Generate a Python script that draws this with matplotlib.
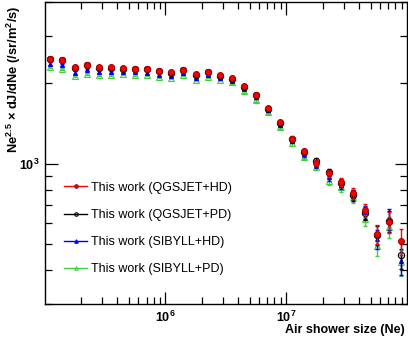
import numpy as np
import matplotlib
matplotlib.use("Agg")
import matplotlib.pyplot as plt
from matplotlib.ticker import LogLocator, NullFormatter, FuncFormatter

plt.rcParams['font.family'] = ['Liberation Sans', 'DejaVu Sans']
plt.rcParams['mathtext.fontset'] = 'custom'
plt.rcParams['mathtext.rm'] = 'Liberation Sans:bold'
plt.rcParams['mathtext.bf'] = 'Liberation Sans:bold'
plt.rcParams['mathtext.it'] = 'Liberation Sans:bold'

# shower size bins, log10(Ne)
log_ne = [5.05, 5.15, 5.25, 5.35, 5.45, 5.55, 5.65, 5.75, 5.85, 5.95,
          6.05, 6.15, 6.25, 6.35, 6.45, 6.55, 6.65, 6.75, 6.85, 6.95,
          7.05, 7.15, 7.25, 7.35, 7.45, 7.55, 7.65, 7.75, 7.85, 7.95]

qgs_hd = [2462, 2442, 2294, 2340, 2294, 2286, 2275, 2261, 2261, 2223,
          2190, 2242, 2153, 2203, 2142, 2087, 1943, 1805, 1606, 1428,
          1240, 1114, 1003, 920, 852, 775, 671, 546, 605, 514]
qgs_pd = [2453, 2432, 2280, 2330, 2280, 2280, 2261, 2251, 2251, 2213,
          2185, 2232, 2148, 2194, 2129, 2075, 1938, 1795, 1592, 1418,
          1231, 1106, 1020, 928, 845, 763, 653, 542, 610, 456]
sib_hd = [2360, 2330, 2185, 2232, 2203, 2203, 2203, 2194, 2185, 2148,
          2129, 2176, 2093, 2139, 2093, 2040, 1897, 1764, 1578, 1394,
          1216, 1087, 986, 889, 831, 763, 659, 523, 621, 433]
sib_pd = [2286, 2255, 2117, 2161, 2148, 2148, 2153, 2148, 2135, 2106,
          2081, 2142, 2058, 2099, 2058, 2011, 1862, 1724, 1551, 1364,
          1190, 1062, 971, 862, 816, 749, 621, 494, 580, 430]

# relative statistical errors (shared by all four)
rel_err = [0.01, 0.01, 0.01, 0.01, 0.01, 0.01, 0.01, 0.01, 0.01, 0.01,
           0.01, 0.01, 0.01, 0.01, 0.01, 0.012, 0.012, 0.014, 0.015, 0.017,
           0.02, 0.022, 0.025, 0.03, 0.035, 0.045, 0.055, 0.08, 0.09, 0.11]

labels = ['This work (QGSJET+HD)', 'This work (QGSJET+PD)',
          'This work (SIBYLL+HD)', 'This work (SIBYLL+PD)']

ne = 10 ** np.array(log_ne)
err = np.array(rel_err)

fig = plt.figure(figsize=(4.08, 3.41), dpi=100)
ax = fig.add_axes([0.110, 0.1085, 0.8865, 0.8855])

styles = [
    dict(data=qgs_hd, color='#ff0000', marker='o', mfc='#ff0000', mec='#aa0000', ms=4.2, z=5),
    dict(data=qgs_pd, color='black', marker='o', mfc='none', mec='black', ms=4.5, z=4),
    dict(data=sib_hd, color='#0000ff', marker='^', mfc='#0000ff', mec='#0000ff', ms=2.8, z=3),
    dict(data=sib_pd, color='#44cc44', marker='^', mfc='none', mec='#44cc44', ms=4.2, z=2),
]

handles = []
for s, lab in zip(styles, labels):
    y = np.array(s['data'], dtype=float)
    ax.errorbar(ne, y, yerr=y * err, fmt='none', ecolor=s['color'],
                elinewidth=1.0, capsize=1.5, zorder=s['z'])
    ax.plot(ne, y, ls='none', marker=s['marker'], mfc=s['mfc'], mec=s['mec'],
            ms=s['ms'], mew=0.8, zorder=s['z'] + 0.5)
    h, = ax.plot([], [], color=s['color'], lw=1.0, marker=s['marker'],
                 mfc=s['mfc'], mec=s['mec'], ms=2.5, mew=0.8)
    handles.append(h)

ax.set_xscale('log')
ax.set_yscale('log')
ax.set_xlim(1.01e5, 0.99e8)
ax.set_ylim(300, 4000)

fmt = FuncFormatter(lambda v, p: r'$\mathbf{10^{%d}}$' % round(np.log10(v)))
ax.xaxis.set_major_formatter(fmt)
ax.yaxis.set_major_formatter(fmt)
ax.xaxis.set_minor_formatter(NullFormatter())
ax.yaxis.set_minor_formatter(NullFormatter())
ax.xaxis.set_minor_locator(LogLocator(base=10, subs=np.arange(2, 10), numticks=20))
ax.yaxis.set_minor_locator(LogLocator(base=10, subs=np.arange(2, 10), numticks=20))

ax.tick_params(which='both', direction='in', top=True, right=True,
               labelsize=9, width=0.9)
ax.tick_params(which='major', length=9, pad=4)
ax.tick_params(which='minor', length=5)
for sp in ax.spines.values():
    sp.set_linewidth(1.0)

ax.set_xlabel('Air shower size (Ne)', fontsize=9, fontweight='bold', ha='right')
ax.xaxis.set_label_coords(0.995, -0.065)
ax.set_ylabel(r'Ne$^{2.5}$ $\times$ dJ/dNe (/sr/m$^{2}$/s)', fontsize=9.3,
              fontweight='bold', ha='right')
ax.yaxis.set_label_coords(-0.06, 0.99)

ax.legend(handles, labels, loc='center left', bbox_to_anchor=(0.052, 0.25),
          frameon=False, fontsize=9, handlelength=1.9, handletextpad=0.3,
          labelspacing=1.22, borderpad=0, borderaxespad=0)

fig.savefig('out.png', dpi=100)
